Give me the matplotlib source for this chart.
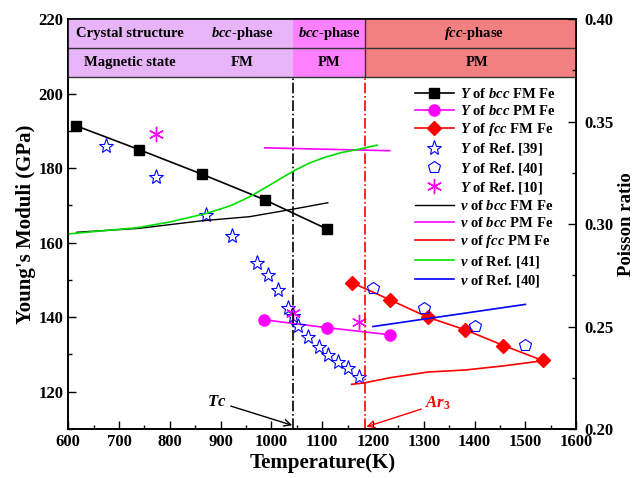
import numpy as np
import matplotlib
matplotlib.use("Agg")
import matplotlib.pyplot as plt
from matplotlib.patches import Rectangle
from matplotlib.ticker import MultipleLocator

plt.rcParams['font.family'] = ['Liberation Serif', 'DejaVu Serif']
plt.rcParams['font.weight'] = 'bold'
plt.rcParams['axes.labelweight'] = 'bold'
plt.rcParams['mathtext.fontset'] = 'custom'
plt.rcParams['mathtext.it'] = 'Liberation Serif:italic:bold'
plt.rcParams['mathtext.rm'] = 'Liberation Serif:bold'
plt.rcParams['mathtext.bf'] = 'Liberation Serif:bold'

# Young's modulus (GPa)
t_bcc_fm = [615, 739, 863, 987, 1109]
y_bcc_fm = [191.4, 185.0, 178.4, 171.5, 163.7]
t_bcc_pm = [986, 1109, 1233]
y_bcc_pm = [139.3, 137.2, 135.3]
t_fcc = [1158, 1233, 1308, 1382, 1457, 1534]
y_fcc = [149.3, 144.7, 140.0, 136.6, 132.4, 128.4]
t_ref39 = [674, 772, 872, 923, 972, 993, 1013, 1033, 1042, 1052, 1072, 1093, 1111, 1132, 1151, 1172]
y_ref39 = [186.0, 177.6, 167.5, 161.9, 154.5, 151.4, 147.3, 142.6, 140.2, 137.7, 134.8, 132.1, 129.9, 127.9, 126.4, 124.0]
t_ref40 = [1200, 1300, 1400, 1500]
y_ref40 = [147.8, 142.6, 137.7, 132.6]
t_ref10 = [773, 1042, 1172]
y_ref10 = [189.1, 141.1, 138.8]

# Poisson ratio
tn_bcc_fm = [617, 739, 863, 957, 1041, 1111]
nu_bcc_fm = [0.2960, 0.2979, 0.3016, 0.3036, 0.3072, 0.3104]
tn_bcc_pm = [987, 1109, 1233]
nu_bcc_pm = [0.3372, 0.3365, 0.3358]
tn_fcc = [1158, 1183, 1233, 1308, 1382, 1457, 1534]
nu_fcc = [0.2218, 0.2225, 0.2250, 0.2278, 0.2288, 0.2308, 0.2333]
tn_ref41 = [600, 735, 800, 872, 920, 957, 1000, 1042, 1075, 1108, 1140, 1174, 1208]
nu_ref41 = [0.2952, 0.2982, 0.3010, 0.3052, 0.3090, 0.3133, 0.3195, 0.3257, 0.3298, 0.3328, 0.3350, 0.3366, 0.3385]
tn_ref40 = [1200, 1500]
nu_ref40 = [0.2500, 0.2608]

xticks = [600, 700, 800, 900, 1000, 1100, 1200, 1300, 1400, 1500, 1600]
yticks = [120, 140, 160, 180, 200, 220]
nuticks = [0.20, 0.25, 0.30, 0.35, 0.40]

tc = 1043
ar3 = 1185

fig = plt.figure(figsize=(6.38, 4.78), dpi=100)
ax = fig.add_axes([0.107, 0.1025, 0.796, 0.8575])
ax2 = ax.twinx()

l1, = ax.plot(t_bcc_fm, y_bcc_fm, '-s', color='black', ms=7, lw=1.2, label=r'$Y$ of $bcc$ FM Fe')
l2, = ax.plot(t_bcc_pm, y_bcc_pm, '-o', color='#ff00ff', ms=8, lw=1.2, label=r'$Y$ of $bcc$ PM Fe')
l3, = ax.plot(t_fcc, y_fcc, '-D', color='#ff0000', ms=7.5, lw=1.2, label=r'$Y$ of $fcc$ FM Fe')
l4, = ax.plot(t_ref39, y_ref39, '*', mfc='none', mec='#0000ff', ms=11, mew=0.8, ls='none', label=r'$Y$ of Ref. [39]')
l5, = ax.plot(t_ref40, y_ref40, 'p', mfc='none', mec='#0000ff', ms=9, mew=0.8, ls='none', label=r'$Y$ of Ref. [40]')
l6, = ax.plot(t_ref10, y_ref10, '*', color='#ff00ff', ms=11, ls='none', label=r'$Y$ of Ref. [10]')
l6.set_marker((6, 2, 0))

m1, = ax2.plot(tn_bcc_fm, nu_bcc_fm, '-', color='black', lw=1.0, label=r'$\nu$ of $bcc$ FM Fe')
m2, = ax2.plot(tn_bcc_pm, nu_bcc_pm, '-', color='#ff00ff', lw=1.2, label=r'$\nu$ of $bcc$ PM Fe')
m3, = ax2.plot(tn_fcc, nu_fcc, '-', color='#ff0000', lw=1.2, label=r'$\nu$ of $fcc$ PM Fe')
m4, = ax2.plot(tn_ref41, nu_ref41, '-', color='#00e000', lw=1.2, label=r'$\nu$ of Ref. [41]')
m5, = ax2.plot(tn_ref40, nu_ref40, '-', color='#0000ff', lw=1.2, label=r'$\nu$ of Ref. [40]')

ax.set_xlim(600, 1600)
ax.set_ylim(110, 220)
ax2.set_ylim(0.20, 0.40)

# phase table on top
tb = 0.86
bands = [(600, tc, '#e8b4f8'), (tc, ar3, '#ff80ff'), (ar3, 1600, '#f28080')]
for x0, x1, c in bands:
    ax.add_patch(Rectangle(((x0 - 600) / 1000, tb), (x1 - x0) / 1000, 1 - tb,
                           transform=ax.transAxes, facecolor=c, edgecolor='none', zorder=3))
ax.plot([0, 1], [0.93, 0.93], transform=ax.transAxes, color='#333333', lw=1, zorder=4)
ax.plot([0, 1], [tb, tb], transform=ax.transAxes, color='#333333', lw=1, zorder=4)
ax.plot([(ar3 - 600) / 1000] * 2, [tb, 1], transform=ax.transAxes, color='#333333', lw=1, zorder=4)

fs = 10.5
row1 = 0.965
row2 = 0.895
ax.text(0.121, row1, 'Crystal structure', transform=ax.transAxes, ha='center', va='center', fontsize=fs, zorder=5)
ax.text(0.342, row1, r'$bcc$-phase', transform=ax.transAxes, ha='center', va='center', fontsize=fs, zorder=5)
ax.text(0.513, row1, r'$bcc$-phase', transform=ax.transAxes, ha='center', va='center', fontsize=fs, zorder=5)
ax.text(0.80, row1, r'$fcc$-phase', transform=ax.transAxes, ha='center', va='center', fontsize=fs, zorder=5)
ax.text(0.121, row2, 'Magnetic state', transform=ax.transAxes, ha='center', va='center', fontsize=fs, zorder=5)
ax.text(0.342, row2, 'FM', transform=ax.transAxes, ha='center', va='center', fontsize=fs, zorder=5)
ax.text(0.513, row2, 'PM', transform=ax.transAxes, ha='center', va='center', fontsize=fs, zorder=5)
ax.text(0.805, row2, 'PM', transform=ax.transAxes, ha='center', va='center', fontsize=fs, zorder=5)

# Tc and Ar3 lines
ax.axvline(tc, ymax=tb, color='black', ls='-.', lw=1.2)
ax.axvline(ar3, ymax=tb, color='red', ls='-.', lw=1.2)

ax.annotate(r'$Tc$', xy=(1041, 111.0), xytext=(912, 117.3), ha='right', va='center', fontsize=12,
            arrowprops=dict(arrowstyle='->', color='black', lw=1.0, shrinkA=1, shrinkB=0))
ax.annotate(r'$Ar_3$', xy=(1187, 110.6), xytext=(1303, 116.8), ha='left', va='center', fontsize=12,
            color='red', arrowprops=dict(arrowstyle='->', color='red', lw=1.0, shrinkA=1, shrinkB=0))

ax.set_xlabel('Temperature(K)', fontsize=15, fontweight='bold', labelpad=2)
ax.set_ylabel("Young's Moduli (GPa)", fontsize=15, fontweight='bold', labelpad=2)
ax2.set_ylabel('Poisson ratio', fontsize=13.5, fontweight='bold', labelpad=3)

ax.set_xticks(xticks)
ax.set_xticklabels([str(v) for v in xticks], fontweight='bold', fontsize=12)
ax.set_yticks(yticks)
ax.set_yticklabels([str(v) for v in yticks], fontweight='bold', fontsize=12)
ax2.set_yticks(nuticks)
ax2.set_yticklabels(['%.2f' % v for v in nuticks], fontweight='bold', fontsize=12)
ax.xaxis.set_minor_locator(MultipleLocator(50))
ax.yaxis.set_minor_locator(MultipleLocator(10))
ax2.yaxis.set_minor_locator(MultipleLocator(0.025))
for a in (ax, ax2):
    a.tick_params(which='major', direction='in', length=6, width=1)
    a.tick_params(which='minor', direction='in', length=3, width=1)
    for s in a.spines.values():
        s.set_linewidth(1.2)
ax.tick_params(axis='y', right=False)
ax2.tick_params(axis='y', which='major', pad=6)

handles = [l1, l2, l3, l4, l5, l6, m1, m2, m3, m4, m5]
ax2.legend(handles=handles, loc='upper right', bbox_to_anchor=(0.98, 0.86), frameon=False,
           prop={'size': 10.5, 'weight': 'bold'}, handlelength=2.7, labelspacing=0.22,
           handletextpad=0.4, borderpad=0.2)

plt.savefig('out.png', dpi=100)
